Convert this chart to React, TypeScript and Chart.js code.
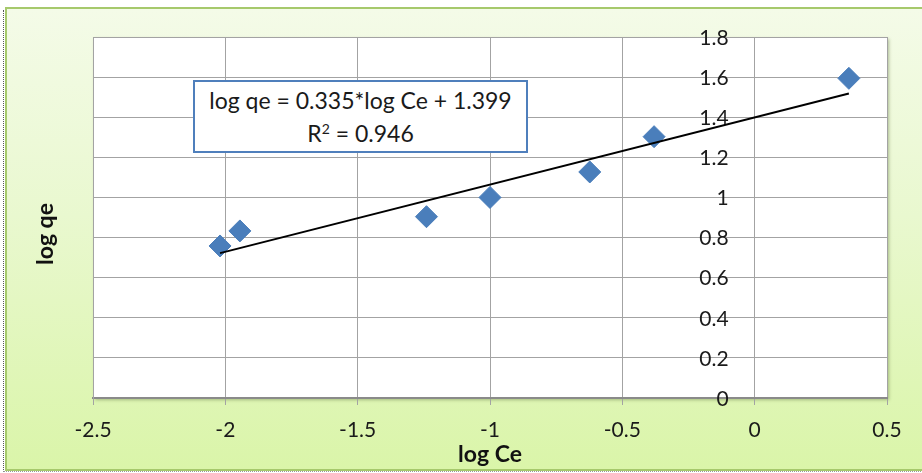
import React, { useEffect, useRef } from "react";
import { Chart, registerables } from "chart.js";

Chart.register(...registerables);

// Freundlich linearisation: log qe against log Ce
const logCe = [-2.02, -1.945, -1.24, -1.0, -0.623, -0.38, 0.356];
const logQe = [0.758, 0.833, 0.904, 1.0, 1.127, 1.303, 1.594];

// Fitted trendline and goodness of fit
const slope = 0.335;
const intercept = 1.399;
const rSquared = 0.946;

// Axis ranges
const xRange = [-2.5, 0.5];
const xStep = 0.5;
const yRange = [0, 1.8];
const yStep = 0.2;

const xTitle = "log Ce";
const yTitle = "log qe";

const FONT = "Lato, 'Open Sans', sans-serif";
const fmt = (v: number) => String(Number(Number(v).toFixed(1)));

const plotBackground = {
  id: "plotBackground",
  beforeDraw(chart: any) {
    const { ctx, chartArea: a } = chart;
    ctx.save();
    ctx.shadowColor = "rgba(90,110,60,0.45)";
    ctx.shadowBlur = 3;
    ctx.shadowOffsetX = 2;
    ctx.shadowOffsetY = 2;
    ctx.fillStyle = "#ffffff";
    ctx.fillRect(a.left, a.top, a.right - a.left, a.bottom - a.top);
    ctx.restore();
  },
};

// Value labels for the vertical axis, placed beside the x = 0 line
const crossingYLabels = {
  id: "crossingYLabels",
  beforeDatasetsDraw(chart: any) {
    const { ctx } = chart;
    const xs = chart.scales.x;
    const ys = chart.scales.y;
    const xAt = xs.getPixelForValue(0) - 26;
    ctx.save();
    ctx.font = `21px ${FONT}`;
    ctx.fillStyle = "#1a1a1a";
    ctx.textAlign = "right";
    ctx.textBaseline = "middle";
    ys.ticks.forEach((t: any) => {
      ctx.fillText(fmt(t.value), xAt, ys.getPixelForValue(t.value) + 1);
    });
    ctx.restore();
  },
  afterDraw(chart: any) {
    const { ctx } = chart;
    ctx.save();
    ctx.font = `bold 23px ${FONT}`;
    ctx.fillStyle = "#111";
    ctx.textAlign = "center";
    ctx.textBaseline = "middle";
    ctx.translate(46, 234);
    ctx.rotate(-Math.PI / 2);
    ctx.fillText(yTitle, 0, 0);
    ctx.restore();
  },
};

export default function App() {
  const canvasRef = useRef<HTMLCanvasElement | null>(null);

  useEffect(() => {
    const canvas = canvasRef.current;
    if (!canvas) return;
    const xMin = Math.min(...logCe);
    const xMax = Math.max(...logCe);
    const chart = new Chart(canvas, {
      type: "scatter",
      data: {
        datasets: [
          {
            label: "data",
            data: logCe.map((x, i) => ({ x, y: logQe[i] })),
            pointStyle: "rectRot",
            pointRadius: 11,
            pointBackgroundColor: "#4a7ebb",
            pointBorderColor: "#4a7ebb",
            pointBorderWidth: 1,
            order: 1,
          },
          {
            type: "line",
            label: "fit",
            data: [
              { x: xMin, y: slope * xMin + intercept },
              { x: xMax, y: slope * xMax + intercept },
            ],
            borderColor: "#000000",
            borderWidth: 2,
            pointRadius: 0,
            fill: false,
            order: 0,
          } as any,
        ],
      },
      options: {
        animation: false,
        responsive: false,
        maintainAspectRatio: false,
        layout: { padding: { left: 93, top: 37, right: 35, bottom: 0 } },
        plugins: {
          legend: { display: false },
          tooltip: { enabled: false },
          title: { display: false },
        },
        scales: {
          x: {
            type: "linear",
            min: xRange[0],
            max: xRange[1],
            ticks: {
              stepSize: xStep,
              font: { family: FONT, size: 21 },
              color: "#1a1a1a",
              padding: 13,
              callback: (v: any) => fmt(v),
            },
            grid: { color: "#a3a3a3", lineWidth: 1, tickLength: 7, tickColor: "#a3a3a3" },
            border: { color: "#8a8a8a", width: 2 },
            title: {
              display: true,
              text: xTitle,
              font: { family: FONT, size: 23, weight: "bold" },
              color: "#111",
              padding: { top: 0, bottom: 5 },
            },
            afterFit: (s: any) => {
              s.height = 75;
            },
          },
          y: {
            type: "linear",
            min: yRange[0],
            max: yRange[1],
            ticks: { stepSize: yStep, display: false },
            grid: { color: "#a3a3a3", lineWidth: 1, drawTicks: false },
            border: { color: "#a3a3a3", width: 1 },
            afterFit: (s: any) => {
              s.width = 0;
            },
          },
        },
      },
      plugins: [plotBackground, crossingYLabels],
    } as any);
    return () => chart.destroy();
  }, []);

  return (
    <div
      style={{
        position: "absolute",
        left: 0,
        top: 0,
        width: 922,
        height: 473,
        overflow: "hidden",
        background: "#ffffff",
      }}
    >
      <div
        style={{
          position: "absolute",
          left: 3,
          top: 10,
          width: 940,
          height: 462,
          boxSizing: "border-box",
          borderLeft: "1px dotted #555",
          borderBottom: "1px dotted #9a9a9a",
        }}
      />
      <div
        style={{
          position: "absolute",
          left: 5,
          top: 7,
          width: 940,
          height: 464,
          boxSizing: "border-box",
          border: "2px solid #a6c96c",
          background: "linear-gradient(to bottom, #f4fbe8 0%, #e9f8cf 45%, #daf5a9 100%)",
        }}
      />
      <canvas
        ref={canvasRef}
        width={922}
        height={473}
        style={{ position: "absolute", left: 0, top: 0, width: 922, height: 473 }}
      />
      <div
        style={{
          position: "absolute",
          left: 193,
          top: 80,
          width: 335,
          height: 73,
          boxSizing: "border-box",
          border: "2px solid #4f7fbc",
          background: "#ffffff",
          fontFamily: FONT,
          fontSize: 23,
          lineHeight: "33px",
          paddingTop: 2,
          textAlign: "center",
          color: "#1a1a1a",
          whiteSpace: "nowrap",
        }}
      >
        <div>
          log qe = {slope.toFixed(3)}*log Ce + {intercept.toFixed(3)}
        </div>
        <div>
          R<sup style={{ fontSize: 14, verticalAlign: "top", lineHeight: "24px" }}>2</sup> ={" "}
          {rSquared.toFixed(3)}
        </div>
      </div>
    </div>
  );
}
